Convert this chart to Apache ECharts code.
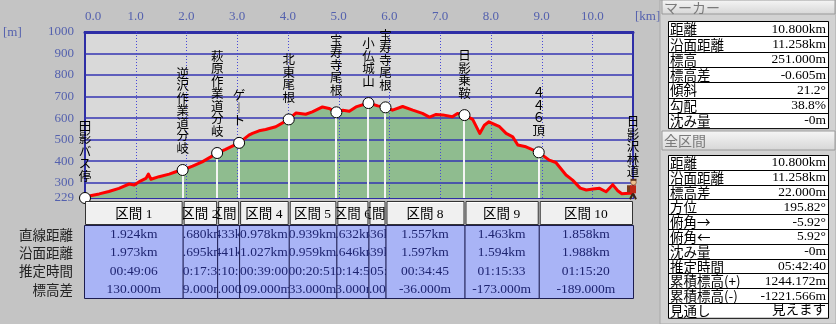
<!DOCTYPE html>
<html><head><meta charset="utf-8">
<script src="https://cdn.jsdelivr.net/npm/echarts@6/dist/echarts.min.js"></script>
<style>html,body{margin:0;padding:0;background:#c4c4c4;}#c{width:836px;height:324px;}</style>
</head><body><div id="c"></div>
<script>
// ---- data ----
const profileKm = [0, 0.08, 0.28, 0.47, 0.67, 0.87, 0.97, 1.07, 1.20, 1.25, 1.30, 1.46, 1.66, 1.79, 1.924, 2.12, 2.31, 2.48, 2.604, 2.77, 3.037, 3.23, 3.30, 3.43, 3.56, 3.76, 4.015, 4.16, 4.35, 4.48, 4.68, 4.81, 4.954, 5.08, 5.21, 5.34, 5.586, 5.77, 5.922, 6.06, 6.26, 6.46, 6.65, 6.79, 6.92, 7.05, 7.24, 7.34, 7.479, 7.64, 7.78, 7.87, 7.96, 8.17, 8.30, 8.43, 8.53, 8.69, 8.942, 9.15, 9.28, 9.48, 9.61, 9.76, 9.88, 10.01, 10.14, 10.27, 10.40, 10.50, 10.58, 10.73, 10.80];
const profileElev = [229, 238, 248, 259, 274, 294, 289, 305, 320, 340, 316, 328, 340, 351, 359, 377, 397, 420, 438, 455, 485, 521, 529, 541, 547, 560, 594, 624, 618, 629, 652, 645, 627, 637, 632, 652, 670, 657, 650, 637, 654, 637, 622, 605, 617, 615, 606, 622, 614, 594, 529, 567, 583, 560, 529, 513, 475, 467, 441, 405, 394, 336, 312, 275, 266, 271, 274, 258, 291, 263, 249, 251, 251];
const markerKm = [0, 1.924, 2.604, 3.037, 4.015, 4.954, 5.586, 5.922, 7.479, 8.942, 10.8];
const markerElev = [229, 359, 438, 485, 594, 627, 670, 650, 614, 441, 251];
const markerNames = ['田影バス停', '逆沢作業道分岐', '萩原作業道分岐', 'ゲート', '北東尾根', '宝寿寺尾根', '小仏城山', '宝寿寺尾根', '日影乗鞍', '４４６頂', '日影沢林道'];
const kmTicks = [0, 1, 2, 3, 4, 5, 6, 7, 8, 9, 10];
const elevTicks = [229, 300, 400, 500, 600, 700, 800, 900, 1000];
const sectionNames = ['区間 1', '区間 2', '区間 3', '区間 4', '区間 5', '区間 6', '区間 7', '区間 8', '区間 9', '区間 10'];
const straightDist = ['1.924km', '0.680km', '0.433km', '0.978km', '0.939km', '0.632km', '0.336km', '1.557km', '1.463km', '1.858km'];
const surfaceDist = ['1.973km', '0.695km', '0.441km', '1.027km', '0.959km', '0.646km', '0.339km', '1.597km', '1.594km', '1.988km'];
const estTime = ['00:49:06', '00:17:35', '00:10:30', '00:39:00', '00:20:51', '00:14:55', '00:05:05', '00:34:45', '01:15:33', '01:15:20'];
const elevDiff = ['130.000m', '79.000m', '47.000m', '109.000m', '33.000m', '43.000m', '-20.000m', '-36.000m', '-173.000m', '-189.000m'];
const rowLabels = ['直線距離', '沿面距離', '推定時間', '標高差'];
const markerInfoLabels = ['距離', '沿面距離', '標高', '標高差', '傾斜', '勾配', '沈み量'];
const markerInfoValues = ['10.800km', '11.258km', '251.000m', '-0.605m', '21.2°', '38.8%', '-0m'];
const totalInfoLabels = ['距離', '沿面距離', '標高差', '方位', '俯角→', '俯角←', '沈み量', '推定時間', '累積標高(+)', '累積標高(-)', '見通し'];
const totalInfoValues = ['10.800km', '11.258km', '22.000m', '195.82°', '-5.92°', '5.92°', '-0m', '05:42:40', '1244.172m', '-1221.566m', '見えます'];

// ---- styling ----
const NUM = '"Liberation Serif","Noto Sans CJK JP",serif';
const CJK = '"Noto Sans CJK JP",sans-serif';
const AXIS_BLUE = '#2e2ea6';
const LABEL_BLUE = '#5461ae';
const XMIN = 0, XMAX = 10.8, YMIN = 229, YMAX = 1000;

const chart = echarts.init(document.getElementById('c'), null, {renderer: 'canvas'});
const profile = profileKm.map((k, i) => [k, profileElev[i]]);
const markers = markerKm.map((k, i) => ({
  value: [k, markerElev[i]], name: markerNames[i],
  itemStyle: i === markerKm.length - 1 ? {color: 'rgba(0,0,0,0)', borderWidth: 0} : undefined
}));
const sections = sectionNames.map((n, i) => [markerKm[i], markerKm[i + 1], i]);

function txt(text, x, y, font, fill, align, valign) {
  return {type: 'text', style: {text, x, y, font, fill, align, verticalAlign: valign, textAlign: align, textVerticalAlign: valign}};
}

const graphics = [];
graphics.push(txt('[m]', 3, 33, '13px ' + NUM, LABEL_BLUE, 'left', 'middle'));
graphics.push(txt('[km]', 635, 17, '13px ' + NUM, LABEL_BLUE, 'left', 'middle'));
rowLabels.forEach((l, r) => graphics.push(txt(l, 73, 225 + 18.25 * (r + 0.5) + 0.5, '13.5px ' + CJK, '#222', 'right', 'middle')));
graphics.push({type: 'rect', shape: {x: 660, y: 0, width: 176, height: 324}, style: {fill: '#d2d2d2', stroke: '#a8a8a8', lineWidth: 1}});
function header(title, y, h) {
  graphics.push({type: 'rect', shape: {x: 662, y: y, width: 173, height: h}, style: {
    fill: new echarts.graphic.LinearGradient(0, 0, 0, 1, [{offset: 0, color: '#f6f6f6'}, {offset: 1, color: '#d6d6d6'}]),
    stroke: '#9a9a9a', lineWidth: 1}});
  graphics.push(txt(title, 664, y + h / 2 + 0.5, '14px ' + CJK, '#7a7a7a', 'left', 'middle'));
}
function infoTable(labels, values, top, rowH) {
  const h = rowH * labels.length;
  graphics.push({type: 'rect', shape: {x: 668.5, y: top + 0.5, width: 160, height: h}, style: {fill: '#ffffff', stroke: '#000', lineWidth: 1}});
  labels.forEach((l, r) => {
    const yc = top + rowH * (r + 0.5) + 0.5;
    if (r > 0) graphics.push({type: 'line', shape: {x1: 668.5, y1: Math.round(top + rowH * r) + 0.5, x2: 828.5, y2: Math.round(top + rowH * r) + 0.5}, style: {stroke: '#000', lineWidth: 1}});
    graphics.push(txt(l, 670, yc, '13.5px ' + CJK, '#000', 'left', 'middle'));
    graphics.push(txt(values[r], 826, yc, '13.5px ' + NUM, '#000', 'right', 'middle'));
  });
}
header('マーカー', 0, 14);
infoTable(markerInfoLabels, markerInfoValues, 21, 15.3);
header('全区間', 131, 19);
infoTable(totalInfoLabels, totalInfoValues, 155, 14.8);

const option = {
  animation: false,
  backgroundColor: '#c4c4c4',
  grid: {left: 85, right: 203, top: 32, bottom: 126, show: true, backgroundColor: '#d9d9d9', borderColor: AXIS_BLUE, borderWidth: 2},
  xAxis: {
    type: 'value', position: 'top', min: XMIN, max: XMAX,
    axisLine: {show: true, onZero: false, lineStyle: {color: AXIS_BLUE, width: 3}},
    axisTick: {show: false}, splitLine: {show: false},
    axisLabel: {customValues: kmTicks, color: LABEL_BLUE, fontFamily: NUM, fontSize: 13, margin: 9,
      formatter: v => Number(v).toFixed(1), alignMinLabel: 'left'}
  },
  yAxis: {
    type: 'value', min: YMIN, max: YMAX,
    axisLine: {show: true, onZero: false, lineStyle: {color: AXIS_BLUE, width: 2}},
    axisTick: {show: false}, splitLine: {show: false},
    axisLabel: {customValues: elevTicks, color: LABEL_BLUE, fontFamily: NUM, fontSize: 13, margin: 11,
      formatter: v => String(Math.round(v))}
  },
  series: [
    {type: 'line', data: profile, symbol: 'none', silent: true, z: 1,
      lineStyle: {width: 0, opacity: 0}, areaStyle: {color: '#8fbc8f', opacity: 1, origin: 'start'}},
    {type: 'custom', data: [[XMIN, YMIN]], silent: true, z: 2, clip: true,
      renderItem: (p, api) => {
        const ch = [];
        elevTicks.slice(1, -1).forEach(v => {
          const a = api.coord([XMIN, v]), b = api.coord([XMAX, v]);
          const y = Math.round(a[1]);
          ch.push({type: 'line', shape: {x1: a[0], y1: y, x2: b[0], y2: y}, style: {stroke: '#3535b2', lineWidth: 1.6}});
        });
        kmTicks.slice(1).forEach(k => {
          const a = api.coord([k, YMIN]), b = api.coord([k, YMAX]);
          const x = Math.round(a[0]) + 0.5;
          ch.push({type: 'line', shape: {x1: x, y1: a[1], x2: x, y2: b[1]}, style: {stroke: '#4848d8', lineWidth: 1, lineDash: [1, 2]}});
        });
        return {type: 'group', children: ch};
      }},
    {type: 'line', data: profile, symbol: 'none', silent: true, z: 3,
      lineStyle: {color: '#ff0000', width: 3, join: 'round'}},
    {type: 'custom', data: markers.slice(1, -1).map(m => m.value), silent: true, z: 4, clip: true,
      renderItem: (p, api) => {
        const a = api.coord([api.value(0), YMIN]), b = api.coord([api.value(0), api.value(1)]);
        const x = Math.round(a[0]);
        return {type: 'line', shape: {x1: x, y1: a[1], x2: x, y2: b[1]}, style: {stroke: '#f4f4f4', lineWidth: 2}};
      }},
    {type: 'scatter', data: markers, symbol: 'circle', symbolSize: 11, z: 5, clip: false, silent: true,
      itemStyle: {color: '#ffffff', borderColor: '#000000', borderWidth: 1, opacity: 1},
      label: {show: true, position: 'top', distance: 10, color: '#000', fontFamily: CJK, fontSize: 12.5, lineHeight: 12.5,
        formatter: p => p.name.replace(/ー/g, '︱').split('').join('\n')}},
    {type: 'custom', data: [markers[markers.length - 1].value], silent: true, z: 6, clip: false,
      renderItem: (p, api) => {
        const c = api.coord([api.value(0), api.value(1)]);
        const x = c[0], y = c[1] - 2;
        return {type: 'group', children: [
          {type: 'polyline', shape: {points: [[x - 3, y + 8], [x, y + 2], [x + 3, y + 8]]}, style: {stroke: '#3a2414', lineWidth: 2, fill: null}},
          {type: 'rect', shape: {x: x - 6, y: y - 6, width: 4, height: 7}, style: {fill: '#7a3a1c'}},
          {type: 'rect', shape: {x: x - 3, y: y - 6, width: 6, height: 8}, style: {fill: '#c02818'}},
          {type: 'circle', shape: {cx: x + 0.5, cy: y - 9, r: 2.8}, style: {fill: '#eec090', stroke: '#6a3a1a', lineWidth: 0.6}},
          {type: 'rect', shape: {x: x - 2.5, y: y - 12.5, width: 6, height: 2}, style: {fill: '#5a3018'}}
        ]};
      }},
    {type: 'custom', data: sections, silent: true, z: 7, clip: false,
      encode: {x: [0, 1], y: 2},
      renderItem: (params, api) => {
        const i = params.dataIndex;
        const x0 = api.coord([api.value(0), YMIN])[0];
        const x1 = api.coord([api.value(1), YMIN])[0];
        const yb = api.coord([XMIN, YMIN])[1];
        const hT = yb + 3, hB = yb + 27, dB = hB + 73;
        const left = i === 0 ? x0 - 1 : x0;
        const cx = (x0 + x1) / 2;
        const rowH = (dB - hB) / 4;
        const vals = [straightDist[i], surfaceDist[i], estTime[i], elevDiff[i]];
        const ch = [
          {type: 'rect', shape: {x: left + 0.5, y: hB + 0.5, width: x1 - left, height: dB - hB}, style: {fill: '#a9b4f6', stroke: '#1c1c50', lineWidth: 1}},
          {type: 'rect', shape: {x: left + 1.5, y: hT + 0.5, width: x1 - left - 2, height: hB - hT - 1}, style: {fill: '#f0f0f0', stroke: '#333', lineWidth: 1}},
          {type: 'line', shape: {x1: left + 2.5, y1: hT + 1.5, x2: x1 - 1.5, y2: hT + 1.5}, style: {stroke: '#ffffff', lineWidth: 1}},
          txt(sectionNames[i], cx, (hT + hB) / 2 + 1, '13.5px ' + NUM, '#000', 'center', 'middle')
        ];
        vals.forEach((v, r) => ch.push(txt(v, cx, hB + rowH * (r + 0.5) + 0.5, '13.5px ' + NUM, '#1e2470', 'center', 'middle')));
        return {type: 'group', children: ch,
          clipPath: {type: 'rect', shape: {x: left, y: hT, width: x1 - left + 1, height: dB - hT + 1}}};
      }}
  ],
  graphic: graphics
};
chart.setOption(option);
</script>
</body></html>
